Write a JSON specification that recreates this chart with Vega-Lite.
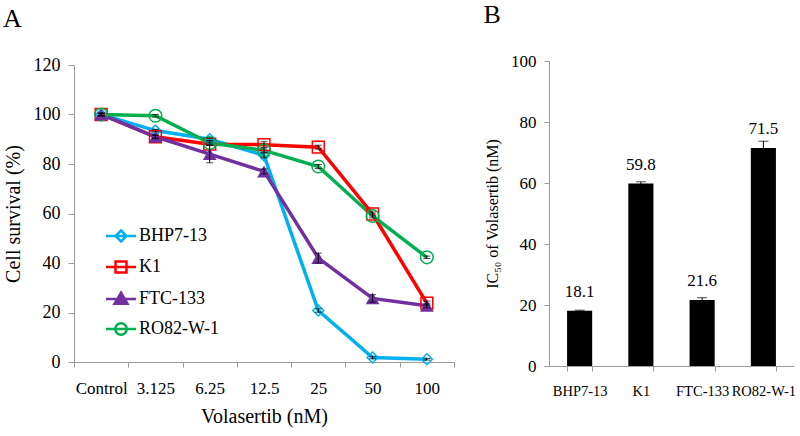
{
  "$schema": "https://vega.github.io/schema/vega-lite/v6.json",
  "padding": {"left": 3, "top": 2, "right": 3, "bottom": 3},
  "background": "white",
  "config": {
    "view": {"stroke": null},
    "font": "Liberation Serif",
    "axis": {"labelFont": "Liberation Serif", "titleFont": "Liberation Serif", "titleFontWeight": "normal", "labelColor": "#000", "titleColor": "#000", "domainColor": "#9a9a9a", "tickColor": "#9a9a9a", "grid": false},
    "legend": {"labelFont": "Liberation Serif"},
    "text": {"font": "Liberation Serif"},
    "title": {"font": "Liberation Serif"}
  },
  "datasets": {
    "surv": [
      {"dose": "Control", "line": "BHP7-13", "v": 100, "lo": 99.5, "hi": 100.5},
      {"dose": "3.125", "line": "BHP7-13", "v": 93.5, "lo": 93, "hi": 94},
      {"dose": "6.25", "line": "BHP7-13", "v": 90, "lo": 89.5, "hi": 90.5},
      {"dose": "12.5", "line": "BHP7-13", "v": 83.5, "lo": 82.5, "hi": 84.5},
      {"dose": "25", "line": "BHP7-13", "v": 20.8, "lo": 20.1, "hi": 21.5},
      {"dose": "50", "line": "BHP7-13", "v": 1.8, "lo": 1.3, "hi": 2.3},
      {"dose": "100", "line": "BHP7-13", "v": 1.1, "lo": 0.8, "hi": 1.4},
      {"dose": "Control", "line": "K1", "v": 100, "lo": 99.5, "hi": 100.5},
      {"dose": "3.125", "line": "K1", "v": 91, "lo": 90.5, "hi": 91.5},
      {"dose": "6.25", "line": "K1", "v": 88, "lo": 87.5, "hi": 88.5},
      {"dose": "12.5", "line": "K1", "v": 87.8, "lo": 86.6, "hi": 89},
      {"dose": "25", "line": "K1", "v": 86.8, "lo": 86, "hi": 87.6},
      {"dose": "50", "line": "K1", "v": 59.8, "lo": 59, "hi": 60.6},
      {"dose": "100", "line": "K1", "v": 23.8, "lo": 23, "hi": 24.6},
      {"dose": "Control", "line": "FTC-133", "v": 100, "lo": 99.5, "hi": 100.5},
      {"dose": "3.125", "line": "FTC-133", "v": 91, "lo": 90.2, "hi": 91.8},
      {"dose": "6.25", "line": "FTC-133", "v": 84, "lo": 80.5, "hi": 87.5},
      {"dose": "12.5", "line": "FTC-133", "v": 77, "lo": 76, "hi": 78},
      {"dose": "25", "line": "FTC-133", "v": 42, "lo": 40, "hi": 44},
      {"dose": "50", "line": "FTC-133", "v": 25.7, "lo": 24.2, "hi": 27.2},
      {"dose": "100", "line": "FTC-133", "v": 22.7, "lo": 21.9, "hi": 23.5},
      {"dose": "Control", "line": "RO82-W-1", "v": 100, "lo": 99.5, "hi": 100.5},
      {"dose": "3.125", "line": "RO82-W-1", "v": 99.5, "lo": 99, "hi": 100},
      {"dose": "6.25", "line": "RO82-W-1", "v": 88.5, "lo": 87.7, "hi": 89.3},
      {"dose": "12.5", "line": "RO82-W-1", "v": 85.5, "lo": 84.5, "hi": 86.5},
      {"dose": "25", "line": "RO82-W-1", "v": 79, "lo": 78.2, "hi": 79.8},
      {"dose": "50", "line": "RO82-W-1", "v": 59, "lo": 58.2, "hi": 59.8},
      {"dose": "100", "line": "RO82-W-1", "v": 42.3, "lo": 41.8, "hi": 42.8}
    ],
    "ic50": [
      {"cell": "BHP7-13", "ic50": 18.1, "lo": 17.9, "hi": 18.3},
      {"cell": "K1", "ic50": 59.8, "lo": 59.2, "hi": 60.4},
      {"cell": "FTC-133", "ic50": 21.6, "lo": 20.8, "hi": 22.4},
      {"cell": "RO82-W-1", "ic50": 71.5, "lo": 69.3, "hi": 73.7}
    ]
  },
  "spacing": 28,
  "hconcat": [
    {
      "width": 380,
      "height": 301,
      "title": {"text": "A", "anchor": "start", "frame": "bounds", "fontSize": 26, "fontWeight": "normal", "color": "#000", "offset": 24, "dx": 0},
      "data": {"name": "surv"},
      "encoding": {
        "x": {"field": "dose", "type": "ordinal", "sort": ["Control", "3.125", "6.25", "12.5", "25", "50", "100"], "scale": {"paddingInner": 0, "paddingOuter": 0},
          "axis": {"title": "Volasertib (nM)", "labelAngle": 0, "tickBand": "extent", "tickSize": 5, "labelPadding": 13, "labelFontSize": 17, "titleFontSize": 20, "titlePadding": 10}},
        "y": {"field": "v", "type": "quantitative", "scale": {"domain": [0, 120], "range": [301, 4]},
          "axis": {"title": "Cell survival (%)", "values": [0, 20, 40, 60, 80, 100, 120], "tickSize": 6, "labelPadding": 8, "labelFontSize": 18, "titleFontSize": 20, "titlePadding": 10}}
      },
      "layer": [
        {
          "mark": {"type": "line", "strokeWidth": 3.5},
          "encoding": {
            "color": {"field": "line", "type": "nominal",
              "scale": {"domain": ["BHP7-13", "K1", "FTC-133", "RO82-W-1"], "range": ["#00B0F0", "#FF0000", "#7030A0", "#00B050"]},
              "legend": {
                "title": null, "orient": "none", "legendX": 38, "legendY": 166,
                "labelFontSize": 18, "labelColor": "#000", "rowPadding": 9, "labelOffset": 9,
                "symbolStrokeWidth": 2.5, "symbolOpacity": 1, "symbolSize": 100
              }
            }
          }
        },
        {
          "transform": [{"filter": {"field": "line", "equal": "BHP7-13"}}],
          "mark": {"type": "point", "filled": false, "shape": "diamond", "size": 120, "strokeWidth": 1.5, "opacity": 1, "color": "#00B0F0"},
          "encoding": {}
        },
        {
          "transform": [{"filter": {"field": "line", "equal": "K1"}}],
          "mark": {"type": "point", "filled": false, "shape": "square", "size": 140, "strokeWidth": 1.5, "opacity": 1, "color": "#FF0000"},
          "encoding": {}
        },
        {
          "transform": [{"filter": {"field": "line", "equal": "RO82-W-1"}}],
          "mark": {"type": "point", "filled": false, "shape": "circle", "size": 160, "strokeWidth": 1.5, "opacity": 1, "color": "#00B050"},
          "encoding": {}
        },
        {
          "transform": [{"filter": {"field": "line", "equal": "FTC-133"}}],
          "mark": {"type": "point", "filled": true, "shape": "triangle-up", "size": 190, "opacity": 1, "color": "#7030A0"},
          "encoding": {}
        },
        {
          "transform": [{"filter": {"field": "line", "equal": "none"}}],
          "mark": {"type": "point", "filled": false, "size": 100, "strokeWidth": 2.5, "opacity": 1},
          "encoding": {
            "color": {"field": "line", "type": "nominal"},
            "shape": {"field": "line", "type": "nominal", "scale": {"domain": ["BHP7-13", "K1", "FTC-133", "RO82-W-1"],
              "range": ["M-3,0L3,0M0,-1.1L1.1,0L0,1.1L-1.1,0Z", "M-3,0L3,0M-1.1,-1.1L1.1,-1.1L1.1,1.1L-1.1,1.1Z", "M-3,0L3,0M0,-1.25L1.3,0.95L-1.3,0.95Z", "M-3,0L3,0M1.15,0A1.15,1.15 0 1 1 -1.15,0A1.15,1.15 0 1 1 1.15,0Z"]}},
            "fill": {"field": "line", "type": "nominal", "scale": {"domain": ["BHP7-13", "K1", "FTC-133", "RO82-W-1"], "range": ["transparent", "transparent", "#7030A0", "transparent"]}}
          }
        },
        {
          "mark": {"type": "errorbar", "ticks": {"size": 7}, "color": "#000", "thickness": 1},
          "encoding": {"y": {"field": "lo", "type": "quantitative", "title": "Cell survival (%)"}, "y2": {"field": "hi"}}
        }
      ]
    },
    {
      "width": 245,
      "height": 305,
      "title": {"text": "B", "anchor": "start", "frame": "bounds", "fontSize": 26, "fontWeight": "normal", "color": "#000", "offset": 24, "dx": -1},
      "data": {"name": "ic50"},
      "encoding": {
        "x": {"field": "cell", "type": "nominal", "sort": null, "scale": {"paddingInner": 0.59, "paddingOuter": 0.295},
          "axis": {"title": null, "labelAngle": 0, "tickBand": "extent", "labelFontSize": 14.5, "labelPadding": 13, "tickSize": 5}}
      },
      "layer": [
        {
          "mark": {"type": "bar", "color": "#000"},
          "encoding": {"y": {"field": "ic50", "type": "quantitative", "scale": {"domain": [0, 100]}, "title": "IC₅₀ of Volasertib (nM)",
            "axis": {"title": "IC₅₀ of Volasertib (nM)", "values": [0, 20, 40, 60, 80, 100], "tickSize": 5, "labelPadding": 8, "labelFontSize": 17, "titleFontSize": 16, "titlePadding": 10}}}
        },
        {
          "mark": {"type": "errorbar", "ticks": {"size": 10}, "color": "#000", "thickness": 1},
          "encoding": {"y": {"field": "lo", "type": "quantitative", "title": "IC₅₀ of Volasertib (nM)"}, "y2": {"field": "hi"}}
        },
        {
          "mark": {"type": "text", "dy": -10, "baseline": "bottom", "fontSize": 17, "color": "#000"},
          "encoding": {"y": {"field": "ic50", "type": "quantitative", "title": "IC₅₀ of Volasertib (nM)"}, "text": {"field": "ic50", "type": "quantitative", "format": ".1f"}}
        }
      ]
    }
  ]
}
